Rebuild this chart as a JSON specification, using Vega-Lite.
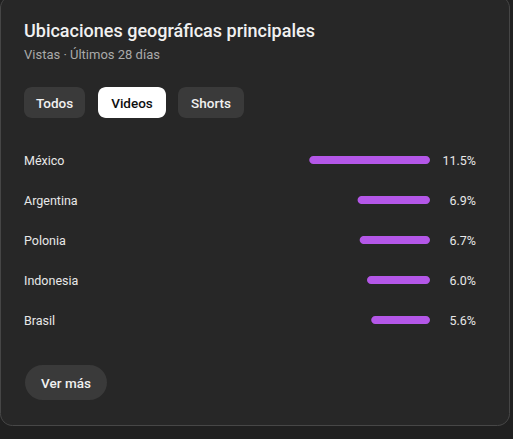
{
  "$schema": "https://vega.github.io/schema/vega-lite/v6.json",
  "width": 513,
  "height": 439,
  "autosize": {"type": "none"},
  "padding": 0,
  "background": "#202020",
  "config": {"view": {"stroke": null}, "font": "Roboto", "text": {"font": "Roboto"}},
  "datasets": {
    "locations": [
      {"country": "México", "share": 0.115},
      {"country": "Argentina", "share": 0.069},
      {"country": "Polonia", "share": 0.067},
      {"country": "Indonesia", "share": 0.060},
      {"country": "Brasil", "share": 0.056}
    ],
    "one": [{}]
  },
  "layer": [
    {
      "data": {"name": "one"},
      "mark": {"type": "rect", "fill": "#272727", "stroke": "#474747", "strokeWidth": 1, "cornerRadius": 12},
      "encoding": {
        "x": {"datum": -0.40905, "type": "quantitative", "scale": {"domain": [-0.409524, 0.079048], "nice": false, "zero": false, "padding": 0}, "axis": null},
        "x2": {"datum": 0.07571},
        "y": {"datum": -3.1, "type": "quantitative", "scale": {"domain": [-3, 7.975], "nice": false, "zero": false, "reverse": true, "padding": 0}, "axis": null},
        "y2": {"datum": 7.6375}
      }
    },
    {
      "data": {"name": "one"},
      "mark": {"type": "text", "text": "Ubicaciones geográficas principales", "align": "left", "baseline": "middle", "dy": 1, "fontSize": 18, "fontWeight": 500, "color": "#f1f1f1"},
      "encoding": {"x": {"datum": -0.38667, "type": "quantitative"}, "y": {"datum": -2.225, "type": "quantitative"}}
    },
    {
      "data": {"name": "one"},
      "mark": {"type": "text", "text": "Vistas · Últimos 28 días", "align": "left", "baseline": "middle", "dy": 1, "fontSize": 13, "color": "#aaaaaa"},
      "encoding": {"x": {"datum": -0.38667, "type": "quantitative"}, "y": {"datum": -1.65, "type": "quantitative"}}
    },
    {
      "data": {"name": "one"},
      "mark": {"type": "rect", "fill": "#3a3a3a", "cornerRadius": 8},
      "encoding": {"x": {"datum": -0.38667, "type": "quantitative"}, "x2": {"datum": -0.32857}, "y": {"datum": -0.825, "type": "quantitative"}, "y2": {"datum": -0.05}}
    },
    {
      "data": {"name": "one"},
      "mark": {"type": "rect", "fill": "#ffffff", "cornerRadius": 8},
      "encoding": {"x": {"datum": -0.31619, "type": "quantitative"}, "x2": {"datum": -0.25143}, "y": {"datum": -0.825, "type": "quantitative"}, "y2": {"datum": -0.05}}
    },
    {
      "data": {"name": "one"},
      "mark": {"type": "rect", "fill": "#3a3a3a", "cornerRadius": 8},
      "encoding": {"x": {"datum": -0.24, "type": "quantitative"}, "x2": {"datum": -0.17714}, "y": {"datum": -0.825, "type": "quantitative"}, "y2": {"datum": -0.05}}
    },
    {
      "data": {"name": "one"},
      "mark": {"type": "text", "text": "Todos", "align": "center", "baseline": "middle", "dy": 1, "fontSize": 13.5, "fontWeight": 500, "color": "#f1f1f1"},
      "encoding": {"x": {"datum": -0.35762, "type": "quantitative"}, "y": {"datum": -0.425, "type": "quantitative"}}
    },
    {
      "data": {"name": "one"},
      "mark": {"type": "text", "text": "Videos", "align": "center", "baseline": "middle", "dy": 1, "fontSize": 13.5, "fontWeight": 500, "color": "#0f0f0f"},
      "encoding": {"x": {"datum": -0.28381, "type": "quantitative"}, "y": {"datum": -0.425, "type": "quantitative"}}
    },
    {
      "data": {"name": "one"},
      "mark": {"type": "text", "text": "Shorts", "align": "center", "baseline": "middle", "dy": 1, "fontSize": 13.5, "fontWeight": 500, "color": "#f1f1f1"},
      "encoding": {"x": {"datum": -0.20857, "type": "quantitative"}, "y": {"datum": -0.425, "type": "quantitative"}}
    },
    {
      "data": {"name": "locations"},
      "transform": [{"window": [{"op": "row_number", "as": "rank"}], "sort": [{"field": "share", "order": "descending"}]}],
      "layer": [
        {
          "mark": {"type": "text", "align": "left", "baseline": "middle", "dy": 1, "fontSize": 12.5, "color": "#e8e8e8"},
          "encoding": {
            "x": {"datum": -0.38667, "type": "quantitative"},
            "y": {"field": "rank", "type": "quantitative"},
            "text": {"field": "country"}
          }
        },
        {
          "transform": [{"calculate": "-datum.share", "as": "neg"}],
          "mark": {"type": "bar", "color": "#b457e8", "height": 8, "cornerRadius": 4},
          "encoding": {
            "x": {"field": "neg", "type": "quantitative"},
            "x2": {"datum": 0},
            "y": {"field": "rank", "type": "quantitative"}
          }
        },
        {
          "mark": {"type": "text", "align": "right", "baseline": "middle", "dy": 1, "fontSize": 12.5, "color": "#e8e8e8"},
          "encoding": {
            "x": {"datum": 0.04381, "type": "quantitative"},
            "y": {"field": "rank", "type": "quantitative"},
            "text": {"field": "share", "type": "quantitative", "format": ".1%"}
          }
        }
      ]
    },
    {
      "data": {"name": "one"},
      "mark": {"type": "rect", "fill": "#3a3a3a", "cornerRadius": 17.5},
      "encoding": {"x": {"datum": -0.38571, "type": "quantitative"}, "x2": {"datum": -0.30762}, "y": {"datum": 6.125, "type": "quantitative"}, "y2": {"datum": 7.0}}
    },
    {
      "data": {"name": "one"},
      "mark": {"type": "text", "text": "Ver más", "align": "center", "baseline": "middle", "dy": 1, "fontSize": 13.5, "fontWeight": 500, "color": "#f1f1f1"},
      "encoding": {"x": {"datum": -0.34667, "type": "quantitative"}, "y": {"datum": 6.575, "type": "quantitative"}}
    }
  ]
}
